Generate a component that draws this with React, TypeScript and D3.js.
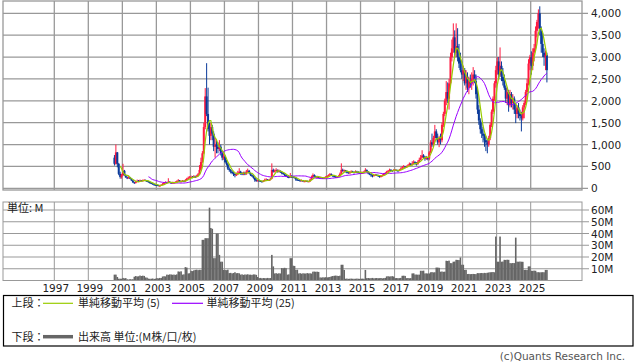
import React from "react";
import * as d3 from "d3";

// monthly candles, 2000-07 .. 2025-12
const opens = [
  700, 560, 820, 560, 330, 260,
  300, 400, 300, 250, 230, 250, 220, 180, 140, 120, 150, 170,
  160, 180, 170, 180, 190, 170, 160, 140, 120, 110, 90, 80,
  75, 70, 60, 60, 80, 100, 120, 140, 130, 150, 130, 120,
  130, 130, 140, 160, 180, 150, 160, 170, 160, 190, 220, 240,
  250, 260, 250, 270, 260, 280, 320, 420, 600, 800, 1400, 2100,
  1700, 1350, 1200, 1400, 1250, 950, 1000, 950, 900, 950, 800, 700,
  720, 600, 550, 450, 420, 380, 350, 330, 300, 320, 350, 380,
  340, 330, 350, 320, 380, 400, 350, 300, 280, 240, 190, 170,
  180, 170, 160, 150, 170, 190, 200, 180, 190, 220, 420, 380,
  400, 420, 380, 400, 370, 350, 330, 300, 280, 260, 250, 270,
  260, 250, 240, 200, 190, 180, 170, 180, 160, 160, 170, 150,
  160, 200, 260, 300, 280, 250, 260, 240, 250, 240, 230, 240,
  260, 280, 300, 320, 300, 280, 270, 260, 260, 280, 330, 420,
  400, 410, 380, 370, 350, 360, 380, 370, 360, 380, 370, 360,
  350, 350, 360, 380, 420, 380, 340, 320, 300, 280, 300, 310,
  300, 290, 260, 280, 300, 330, 350, 380, 400, 420, 410, 400,
  420, 420, 410, 400, 420, 450, 480, 500, 480, 500, 520, 560,
  540, 560, 600, 580, 550, 600, 650, 700, 750, 720, 680, 700,
  680, 820, 1050, 1000, 1150, 1300, 1150, 1050, 1150, 1100, 1450, 1700,
  2000, 2200, 2050, 2400, 3000, 3200, 3450, 3100, 3250, 3000, 2850, 2700,
  2600, 2700, 2400, 2550, 2300, 2450, 2400, 2500, 2600, 2450, 2150, 1800,
  1550, 1350, 1250, 1200, 1100, 1050, 1000, 1150, 1450, 1750, 2050, 2400,
  2700, 2900, 2600, 2800, 2550, 2450, 2300, 2050, 2200, 1900, 2150, 1950,
  2050, 1800, 1700, 1850, 1700, 1650, 1600, 1850, 1950, 2200, 2400, 2850,
  3000, 2800, 3100, 3200, 3600, 3800, 4000, 3600, 3300, 3100, 3000, 3050,
];

const closes = [
  560, 820, 560, 330, 260, 300,
  400, 300, 250, 230, 250, 220, 180, 140, 120, 150, 170, 160,
  180, 170, 180, 190, 170, 160, 140, 120, 110, 90, 80, 75,
  70, 60, 60, 80, 100, 120, 140, 130, 150, 130, 120, 130,
  130, 140, 160, 180, 150, 160, 170, 160, 190, 220, 240, 250,
  260, 250, 270, 260, 280, 320, 420, 600, 800, 1400, 2100, 1700,
  1350, 1200, 1400, 1250, 950, 1000, 950, 900, 950, 800, 700, 720,
  600, 550, 450, 420, 380, 350, 330, 300, 320, 350, 380, 340,
  330, 350, 320, 380, 400, 350, 300, 280, 240, 190, 170, 180,
  170, 160, 150, 170, 190, 200, 180, 190, 220, 420, 380, 400,
  420, 380, 400, 370, 350, 330, 300, 280, 260, 250, 270, 260,
  250, 240, 200, 190, 180, 170, 180, 160, 160, 170, 150, 160,
  200, 260, 300, 280, 250, 260, 240, 250, 240, 230, 240, 260,
  280, 300, 320, 300, 280, 270, 260, 260, 280, 330, 420, 400,
  410, 380, 370, 350, 360, 380, 370, 360, 380, 370, 360, 350,
  350, 360, 380, 420, 380, 340, 320, 300, 280, 300, 310, 300,
  290, 260, 280, 300, 330, 350, 380, 400, 420, 410, 400, 420,
  420, 410, 400, 420, 450, 480, 500, 480, 500, 520, 560, 540,
  560, 600, 580, 550, 600, 650, 700, 750, 720, 680, 700, 680,
  820, 1050, 1000, 1150, 1300, 1150, 1050, 1150, 1100, 1450, 1700, 2000,
  2200, 2050, 2400, 3000, 3200, 3450, 3100, 3250, 3000, 2850, 2700, 2600,
  2700, 2400, 2550, 2300, 2450, 2400, 2500, 2600, 2450, 2150, 1800, 1550,
  1350, 1250, 1200, 1100, 1050, 1000, 1150, 1450, 1750, 2050, 2400, 2700,
  2900, 2600, 2800, 2550, 2450, 2300, 2050, 2200, 1900, 2150, 1950, 2050,
  1800, 1700, 1850, 1700, 1650, 1600, 1850, 1950, 2200, 2400, 2850, 3000,
  2800, 3100, 3200, 3600, 3800, 4000, 3600, 3300, 3100, 3000, 3050, 2700,
];

const highs = [
  760, 1000, 830, 580, 380, 330,
  560, 420, 320, 270, 280, 260, 230, 190, 150, 170, 200, 190,
  200, 190, 200, 210, 200, 180, 170, 150, 130, 120, 100, 90,
  85, 80, 70, 90, 120, 140, 160, 150, 230, 160, 140, 150,
  150, 160, 180, 210, 190, 180, 190, 180, 210, 240, 270, 280,
  290, 280, 300, 290, 310, 350, 530, 700, 850, 1500, 2290, 2860,
  2300, 1500, 1500, 1450, 1300, 1150, 1100, 1050, 1100, 1000, 850, 800,
  750, 650, 580, 480, 440, 400, 370, 340, 360, 400, 460, 400,
  370, 380, 380, 420, 450, 420, 360, 320, 300, 250, 210, 200,
  200, 190, 170, 190, 220, 230, 210, 210, 240, 570, 450, 430,
  460, 430, 430, 410, 390, 360, 340, 310, 290, 280, 350, 300,
  280, 270, 250, 210, 200, 190, 200, 190, 175, 185, 175, 170,
  220, 290, 340, 320, 290, 280, 270, 270, 260, 250, 260, 280,
  300, 320, 350, 340, 310, 300, 280, 280, 300, 360, 570, 450,
  430, 420, 400, 380, 390, 410, 400, 390, 410, 400, 390, 380,
  380, 380, 400, 460, 430, 390, 350, 330, 310, 320, 330, 320,
  310, 300, 300, 320, 350, 370, 400, 420, 450, 440, 420, 440,
  440, 430, 420, 440, 480, 510, 530, 510, 520, 550, 590, 580,
  620, 640, 620, 600, 640, 700, 760, 870, 780, 740, 740, 720,
  850, 1100, 1250, 1200, 1450, 1350, 1250, 1200, 1250, 1500, 1750, 2050,
  2450, 2420, 2500, 3100, 3400, 3770, 3610, 3770, 3660, 3300, 3100, 2900,
  2800, 2750, 2700, 2650, 2550, 2600, 2650, 2770, 2700, 2600, 2300, 1900,
  1600, 1500, 1400, 1250, 1200, 1100, 1200, 1500, 1800, 2100, 2450, 2800,
  3000, 3000, 3220, 2900, 2750, 2600, 2350, 2300, 2250, 2250, 2200, 2150,
  2100, 1950, 1900, 1950, 1800, 1750, 1900, 2000, 2250, 2500, 2950, 3050,
  3130, 3200, 3300, 3700, 3850, 4090, 4160, 3700, 3550, 3200, 3150, 3100,
];

const lows = [
  520, 540, 480, 300, 220, 220,
  280, 290, 240, 210, 220, 210, 170, 120, 100, 110, 140, 150,
  150, 160, 160, 170, 160, 150, 130, 110, 100, 80, 70, 65,
  60, 50, 45, 55, 75, 95, 110, 120, 120, 120, 110, 110,
  120, 120, 130, 150, 140, 140, 150, 150, 150, 180, 210, 230,
  240, 230, 240, 240, 250, 270, 310, 400, 580, 780, 1350, 1650,
  1300, 1000, 1100, 1100, 850, 700, 800, 800, 850, 750, 640, 650,
  580, 520, 420, 380, 340, 320, 280, 250, 280, 300, 330, 310,
  300, 300, 300, 310, 360, 330, 280, 260, 220, 150, 150, 160,
  160, 150, 135, 140, 160, 180, 170, 170, 180, 210, 360, 360,
  380, 360, 360, 350, 320, 310, 280, 260, 240, 230, 240, 240,
  240, 230, 170, 175, 170, 160, 160, 150, 145, 150, 140, 140,
  150, 190, 250, 260, 240, 240, 230, 230, 230, 220, 220, 230,
  250, 270, 290, 280, 260, 250, 240, 240, 250, 270, 320, 380,
  370, 360, 340, 330, 340, 350, 350, 340, 350, 350, 340, 330,
  330, 330, 350, 370, 360, 320, 300, 260, 250, 270, 290, 280,
  260, 240, 250, 270, 290, 320, 340, 370, 390, 390, 380, 390,
  400, 390, 380, 390, 410, 440, 470, 460, 470, 490, 510, 520,
  520, 550, 540, 520, 540, 590, 640, 690, 680, 630, 650, 640,
  640, 800, 950, 940, 1050, 1100, 1000, 940, 1000, 1050, 1400, 1650,
  1900, 1950, 1800, 2350, 2900, 3100, 3000, 3000, 2900, 2750, 2650, 2500,
  2450, 2350, 2250, 2200, 2150, 2300, 2250, 2350, 2400, 2050, 1700, 1450,
  1250, 1150, 1050, 950, 850, 800, 950, 1100, 1400, 1700, 2000, 2300,
  2600, 2500, 2550, 2450, 2350, 2250, 1950, 1900, 1750, 1850, 1850, 1800,
  1700, 1490, 1600, 1600, 1550, 1300, 1550, 1600, 1900, 2100, 2350, 2700,
  2600, 2700, 2900, 3150, 3450, 3650, 3500, 3100, 3000, 2800, 2700, 2420,
];

// volume, millions of shares
const volumes = [
  5, 5, 3, 1.5, 1.5, 1.5,
  2.2, 1.8, 2.0, 1.0, 0.8, 1.2, 0.9, 1.1, 3.2, 3.8, 3.4, 3.6,
  4.2, 3.8, 4.1, 3.9, 2.6, 2.4, 1.6, 1.4, 1.5, 1.7, 1.3, 1.6,
  2.0, 1.8, 2.2, 2.1, 3.4, 3.6, 3.5, 5.0, 4.8, 5.2, 5.1, 4.9,
  5.0, 4.8, 5.2, 7.7, 7.5, 7.8, 5.0, 5.2, 11.4, 11.0, 6.0, 6.2,
  8.3, 8.0, 8.6, 9.0, 9.2, 8.8, 9.1, 9.0, 34.6, 34.6, 36.0, 36.0,
  36.0, 62.0, 44.7, 44.0, 19.0, 19.0, 40.0, 40.0, 21.8, 16.0, 16.0, 9.0,
  9.0, 8.8, 9.2, 6.3, 6.5, 6.0, 6.4, 7.0, 6.2, 6.3, 6.1, 5.0,
  5.2, 4.8, 5.1, 5.0, 5.3, 4.9, 5.0, 4.7, 5.2, 5.1, 4.8, 3.0,
  2.0, 2.2, 1.8, 2.1, 2.0, 1.9, 2.2, 2.0, 2.1, 21.8, 12.0, 6.0,
  6.2, 5.8, 6.1, 6.0, 10.6, 10.4, 10.8, 10.5, 5.0, 5.2, 19.0, 19.0,
  12.6, 12.4, 9.0, 9.2, 6.0, 6.2, 5.8, 6.1, 6.0, 5.9, 6.3, 6.0,
  6.1, 5.9, 7.5, 7.6, 7.4, 7.5, 7.3, 2.6, 2.5, 2.7, 2.6, 2.8,
  2.6, 2.8, 3.0, 3.5, 3.8, 4.0, 4.2, 4.0, 3.8, 4.1, 13.4, 13.4,
  9.0, 1.5, 1.6, 1.4, 1.5, 1.6, 1.5, 1.4, 1.5, 1.6, 1.5, 1.4,
  1.5, 1.6, 1.4, 9.0, 2.0, 2.1, 1.9, 2.0, 2.2, 1.8, 2.0, 2.1,
  1.9, 2.0, 2.1, 1.8, 2.0, 2.2, 3.5, 3.6, 3.4, 3.5, 3.7, 3.3,
  2.0, 2.1, 1.9, 2.0, 2.2, 4.0, 4.1, 3.9, 2.0, 2.1, 1.9, 2.0,
  6.0, 6.1, 5.0, 5.1, 4.9, 5.0, 8.3, 8.2, 8.4, 6.0, 6.1, 5.9,
  6.0, 7.0, 7.1, 6.9, 7.0, 11.0, 11.0, 10.8, 7.5, 7.6, 7.4, 7.5,
  16.8, 16.6, 16.9, 14.8, 14.7, 16.0, 16.1, 17.6, 17.5, 17.4, 19.6, 13.4,
  13.4, 9.0, 9.1, 5.5, 5.6, 5.4, 5.5, 5.6, 5.5, 5.4, 6.3, 6.2,
  6.3, 6.4, 6.2, 6.5, 6.3, 6.6, 6.8, 7.0, 7.1, 7.2, 7.0, 37.4,
  16.0, 16.0, 37.4, 16.0, 16.1, 17.6, 17.5, 17.7, 17.6, 14.8, 14.7, 14.9,
  14.8, 36.5, 16.0, 16.0, 16.1, 16.0, 15.9, 9.0, 9.1, 8.9, 12.0, 12.0,
  8.3, 8.2, 8.4, 8.3, 7.0, 7.1, 6.9, 7.0, 7.1, 7.0, 9.0, 9.0,
];

const priceTicks = [0, 500, 1000, 1500, 2000, 2500, 3000, 3500, 4000];
const volumeTicks = [10, 20, 30, 40, 50, 60];
const yearTicks = [1997, 1999, 2001, 2003, 2005, 2007, 2009, 2011, 2013, 2015, 2017, 2019, 2021, 2023, 2025];

const UP = "#ff1a40";
const DOWN = "#0a3a9a";
const MA5 = "#99cc00";
const MA25 = "#9900ff";
const GRID = "#999";
const NUM_FONT = "DejaVu Sans";
const JP_FONT = "Noto Sans CJK JP";

function movingAvg(vals: number[], n: number) {
  return vals.map((_, i) => (i < n - 1 ? null : d3.mean(vals.slice(i - n + 1, i + 1)) as number));
}

export default function App() {
  const left = 3, right = 582;
  const x = d3.scaleTime().domain([new Date(1997, 0, 1), new Date(2025, 0, 1)]).range([54.3, 530.7]);
  const y = d3.scaleLinear().domain([0, 4000]).range([188.3, 13.3]);
  const yv = d3.scaleLinear().domain([0, 60]).range([280.5, 210]);

  const months = closes.map((_, i) => new Date(2000, 6 + i, 15));
  const ma5 = movingAvg(closes, 5);
  const ma25 = movingAvg(closes, 25);

  const maLine = d3
    .line<number | null>()
    .defined((d) => d !== null)
    .x((_, i) => x(months[i]))
    .y((d) => y(d as number));

  const bodyW = 2;
  const volW = 1.6;

  return (
    <div style={{ position: "absolute", left: 0, top: 0 }}>
      <svg width={638} height={362} style={{ display: "block", background: "#fff" }}>
        {/* top panel grid */}
        {priceTicks.map((t) => (
          <line key={"pg" + t} x1={left} x2={588} y1={y(t)} y2={y(t)} stroke={GRID} strokeWidth={1.3} />
        ))}
        {yearTicks.map((yr) => (
          <line key={"vg" + yr} x1={x(new Date(yr, 0, 1))} x2={x(new Date(yr, 0, 1))} y1={1} y2={190} stroke={GRID} strokeWidth={1.3} />
        ))}
        {/* volume panel grid */}
        {volumeTicks.map((t) => (
          <line key={"vv" + t} x1={left} x2={589} y1={yv(t)} y2={yv(t)} stroke={GRID} strokeWidth={1} />
        ))}
        {yearTicks.map((yr) => (
          <line key={"vvg" + yr} x1={x(new Date(yr, 0, 1))} x2={x(new Date(yr, 0, 1))} y1={202} y2={280.5} stroke={GRID} strokeWidth={1} />
        ))}

        {/* volume bars */}
        {volumes.map((v, i) => (
          <rect key={"v" + i} x={x(months[i]) - volW / 2} y={yv(v)} width={volW} height={yv(0) - yv(v)} fill="#666" />
        ))}

        {/* candles */}
        {closes.map((c, i) => {
          const o = opens[i];
          const col = c >= o ? UP : DOWN;
          const cx = x(months[i]);
          const top = y(Math.max(o, c));
          const h = Math.max(1, y(Math.min(o, c)) - top);
          return (
            <g key={"c" + i}>
              <line x1={cx} x2={cx} y1={y(highs[i])} y2={y(lows[i])} stroke={col} strokeWidth={1} />
              <rect x={cx - bodyW / 2} y={top} width={bodyW} height={h} fill={col} />
            </g>
          );
        })}

        <path d={maLine(ma25) || ""} fill="none" stroke={MA25} strokeWidth={1} />
        <path d={maLine(ma5) || ""} fill="none" stroke={MA5} strokeWidth={1.2} />

        {/* frames */}
        <rect x={left} y={1} width={right - left} height={189} fill="none" stroke={GRID} strokeWidth={1.3} />
        <rect x={left} y={202} width={right - left} height={78.5} fill="none" stroke={GRID} strokeWidth={1} />

        {/* axis labels */}
        {priceTicks.map((t) => (
          <text key={"pl" + t} x={591} y={y(t) + 4} fontFamily={NUM_FONT} fontSize={10.5} fill="#222">
            {d3.format(",")(t)}
          </text>
        ))}
        {volumeTicks.map((t) => (
          <text key={"vl" + t} x={591} y={yv(t) + 4} fontFamily={NUM_FONT} fontSize={10.5} fill="#222">
            {t + "M"}
          </text>
        ))}
        {yearTicks.map((yr) => (
          <text key={"yl" + yr} x={x(new Date(yr, 0, 1)) + 1.5} y={291.5} textAnchor="middle" fontFamily={NUM_FONT} fontSize={10.5} fill="#222">
            {yr}
          </text>
        ))}
        <text x={7} y={212} fontFamily={JP_FONT} fontSize={11} fill="#222">単位: M</text>

        {/* legend */}
        <rect x={3.5} y={295.5} width={629.5} height={50.5} fill="none" stroke="#000" strokeWidth={1.2} />
        <text x={11.5} y={307} fontFamily={JP_FONT} fontSize={11} fill="#222">上段：</text>
        <line x1={43} x2={73} y1={303.3} y2={303.3} stroke={MA5} strokeWidth={1.2} />
        <text x={78} y={307} fontFamily={JP_FONT} fontSize={11} fill="#222">単純移動平均 (5)</text>
        <line x1={172} x2={203} y1={303.3} y2={303.3} stroke={MA25} strokeWidth={1.2} />
        <text x={206.5} y={307} fontFamily={JP_FONT} fontSize={11} fill="#222">単純移動平均 (25)</text>
        <text x={11.5} y={340.5} fontFamily={JP_FONT} fontSize={11} fill="#222">下段：</text>
        <line x1={43} x2={73} y1={336.7} y2={336.7} stroke="#666" strokeWidth={3.5} />
        <text x={78} y={340.5} fontFamily={JP_FONT} fontSize={11} fill="#222">出来高 単位:(M株/口/枚)</text>

        <text x={625} y={360} textAnchor="end" fontFamily={NUM_FONT} fontSize={10.5} fill="#555">
          (c)Quants Research Inc.
        </text>
      </svg>
    </div>
  );
}
